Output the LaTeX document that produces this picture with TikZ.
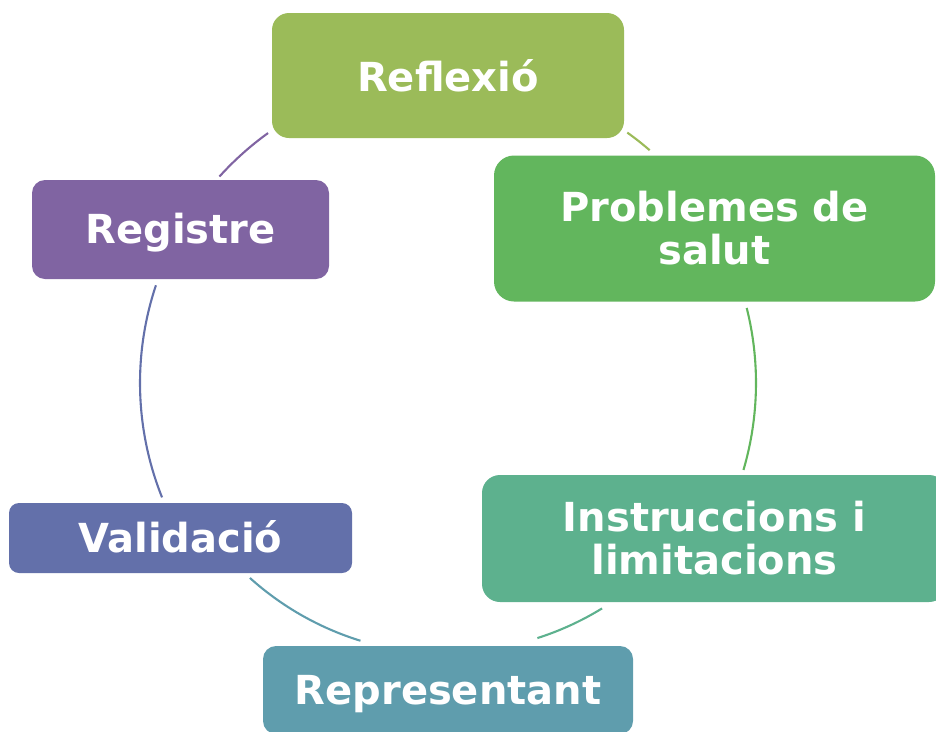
\documentclass[tikz,border=0pt]{standalone}
\usepackage{fontspec}
\setmainfont{DejaVu Sans}
\begin{document}
\begin{tikzpicture}[x=1pt,y=-1pt,
  box/.style={draw=none, inner sep=0pt, align=center, text=white,
    font=\fontsize{40}{43}\selectfont\bfseries},
  link/.style={line width=2.1pt}]
\definecolor{cReflexio}{HTML}{9BBB59}
\definecolor{cProblemes}{HTML}{62B65D}
\definecolor{cInstr}{HTML}{5DB18E}
\definecolor{cRepr}{HTML}{5F9DAD}
\definecolor{cValid}{HTML}{6370AA}
\definecolor{cRegistre}{HTML}{8064A2}
\useasboundingbox (0,0) rectangle (936,731);
\clip (0,0) rectangle (936,731);
\coordinate (c) at (448,383);
\coordinate (cb) at (448,358);
% arcs
\draw[link, cRegistre] ([shift={(-137.9:308)}]c) arc[start angle=-137.9, end angle=-125.75, radius=308];
\draw[link, cReflexio] ([shift={(-54.4:308)}]c) arc[start angle=-54.4, end angle=-49.1, radius=308];
\draw[link, cProblemes] ([shift={(-14.1:308)}]c) arc[start angle=-14.1, end angle=16.4, radius=308];
\draw[link, cValid] ([shift={(158.2:308)}]c) arc[start angle=158.2, end angle=198.5, radius=308];
\draw[link, cInstr] ([shift={(58.4:294)}]cb) arc[start angle=58.4, end angle=72.3, radius=294];
\draw[link, cRepr] ([shift={(107.2:296)}]cb) arc[start angle=107.2, end angle=132, radius=296];
% boxes
\node[box, fill=cReflexio, minimum width=352, minimum height=125, rounded corners=17] (reflexio) at (448,75.5) {Reflexió};
\node[box, fill=cProblemes, minimum width=441, minimum height=146, rounded corners=20] (problemes) at (714.5,228.5) {Problemes de\\salut};
\node[box, fill=cInstr, minimum width=465, minimum height=127, rounded corners=18] (instr) at (714.5,538.5) {Instruccions i\\limitacions};
\node[box, fill=cRepr, minimum width=370, minimum height=88, rounded corners=13, text height=30, text depth=2] (repr) at (448,690) {Representant};
\node[box, fill=cValid, minimum width=343, minimum height=70, rounded corners=10, text height=30, text depth=2] (valid) at (180.5,538) {Validació};
\node[box, fill=cRegistre, minimum width=297, minimum height=99, rounded corners=13, text height=30, text depth=2] (registre) at (180.5,229.5) {Registre};
\end{tikzpicture}
\end{document}
